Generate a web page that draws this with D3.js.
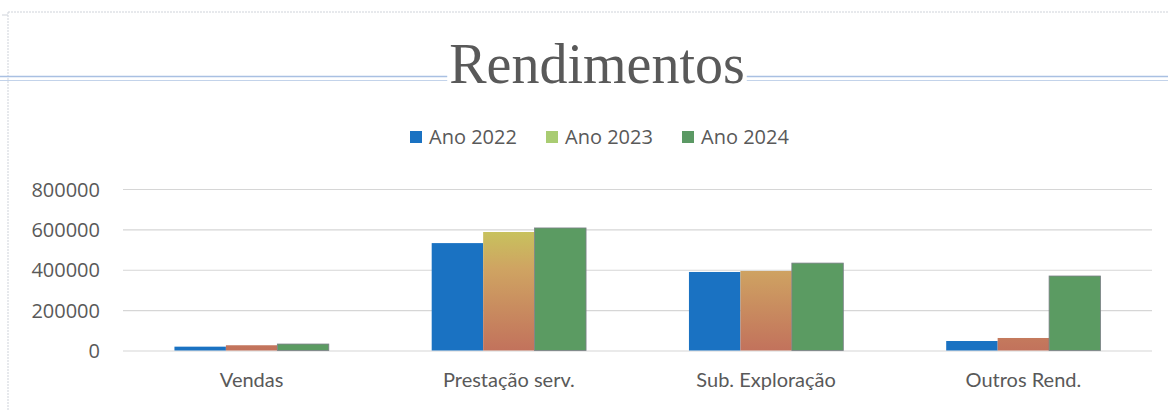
<!DOCTYPE html>
<html><head><meta charset="utf-8">
<script src="https://cdn.jsdelivr.net/npm/d3@7"></script>
<style>html,body{margin:0;padding:0;background:#fff;}svg{display:block;}</style>
</head><body>
<svg id="chart" width="1168" height="411"></svg>
<script>
const categories = ["Vendas", "Prestação serv.", "Sub. Exploração", "Outros Rend."];
const seriesNames = ["Ano 2022", "Ano 2023", "Ano 2024"];
const ano2022 = [19000, 532000, 389000, 47000];
const ano2023 = [26000, 587000, 394000, 62000];
const ano2024 = [32000, 607000, 433000, 369000];
const yTicks = [0, 200000, 400000, 600000, 800000];
const title = "Rendimentos";

const series = [ano2022, ano2023, ano2024];
const legendColors = ["#1a72c2", "#a9cc72", "#5b9964"];
const barFills = ["#1a72c2", "url(#g2023)", "#5b9b62"];

const svg = d3.select("#chart");
const W = 1168, H = 411;
const m = {left: 123, right: 1152, top: 189, bottom: 350.5};

// decorative frame
svg.append("line").attr("x1", 8).attr("x2", W).attr("y1", 12).attr("y2", 12)
  .attr("stroke", "#cfd3da").attr("stroke-width", 1).attr("stroke-dasharray", "2,1");
svg.append("line").attr("x1", 8).attr("x2", 8).attr("y1", 12).attr("y2", H)
  .attr("stroke", "#cfd3da").attr("stroke-width", 1).attr("stroke-dasharray", "2,1");
svg.append("line").attr("x1", 2).attr("x2", 8).attr("y1", 15).attr("y2", 15)
  .attr("stroke", "#cfd3da");
// document double line
svg.append("line").attr("x1", 0).attr("x2", W).attr("y1", 76.5).attr("y2", 76.5)
  .attr("stroke", "#a9c0e2").attr("stroke-width", 1.5);
svg.append("line").attr("x1", 0).attr("x2", W).attr("y1", 80.5).attr("y2", 80.5)
  .attr("stroke", "#c3d3ea").attr("stroke-width", 1.2);

// gradient for 2023
const defs = svg.append("defs");
const grad = defs.append("linearGradient").attr("id", "g2023")
  .attr("gradientUnits", "userSpaceOnUse").attr("x1", 0).attr("x2", 0)
  .attr("y1", m.top + 35).attr("y2", m.bottom);
grad.append("stop").attr("offset", "0%").attr("stop-color", "#c6c85c");
grad.append("stop").attr("offset", "35%").attr("stop-color", "#cfa462");
grad.append("stop").attr("offset", "100%").attr("stop-color", "#c2725c");

// title
const t = svg.append("text").attr("x", 597).attr("y", 83).attr("text-anchor", "middle")
  .attr("font-family", "Liberation Serif, serif").attr("font-size", 56).attr("fill", "#595959")
  .text(title);
const bb = t.node().getBBox();
svg.insert("rect", "text").attr("x", bb.x - 2).attr("y", 70).attr("width", bb.width + 4).attr("height", 14).attr("fill", "#fff");

// scales
const x = d3.scaleBand().domain(categories).range([m.left, m.right]).padding(0);
const groupW = x.bandwidth() * 0.6;
const xs = d3.scaleBand().domain(d3.range(series.length)).range([0, groupW]).padding(0);
const y = d3.scaleLinear().domain([0, 800000]).range([m.bottom, m.top]);

// gridlines
const yAxis = d3.axisLeft(y).tickValues(yTicks).tickSize(-(m.right - m.left)).tickFormat(d => String(d));
const ga = svg.append("g").attr("transform", `translate(${m.left},0)`).call(yAxis);
ga.select(".domain").remove();
ga.selectAll(".tick line").attr("stroke", "#d6d6d6").attr("stroke-width", 1.2);
ga.selectAll(".tick text").attr("x", -23).attr("dy", "0.36em")
  .attr("font-family", "Open Sans, sans-serif").attr("font-size", 20).attr("fill", "#595959");

// bars
series.forEach((vals, si) => {
  svg.append("g").selectAll("rect").data(vals).join("rect")
    .attr("x", (d, i) => x(categories[i]) + (x.bandwidth() - groupW) / 2 + xs(si))
    .attr("y", d => y(d))
    .attr("width", xs.bandwidth())
    .attr("height", d => y(0) - y(d))
    .attr("fill", barFills[si])
    .attr("stroke", si === 2 ? "#7a7f86" : "none")
    .attr("stroke-width", si === 2 ? 0.8 : 0);
});

// category axis
const xAxis = d3.axisBottom(x).tickSize(0);
const gx = svg.append("g").attr("transform", `translate(0,${m.bottom})`).call(xAxis);
gx.select(".domain").remove();
gx.selectAll(".tick text").attr("y", 22).attr("dy", "0.71em")
  .attr("font-family", "Lato, sans-serif").attr("font-size", 20).attr("fill", "#595959");

// legend
const legendX = [410, 546, 682];
const lg = svg.append("g");
seriesNames.forEach((n, i) => {
  lg.append("rect").attr("x", legendX[i]).attr("y", 131).attr("width", 12).attr("height", 12)
    .attr("fill", legendColors[i]);
  lg.append("text").attr("x", legendX[i] + 19).attr("y", 137).attr("dy", "0.36em")
    .attr("font-family", "Open Sans, sans-serif").attr("font-size", 20).attr("fill", "#595959")
    .text(n);
});
</script>
</body></html>
